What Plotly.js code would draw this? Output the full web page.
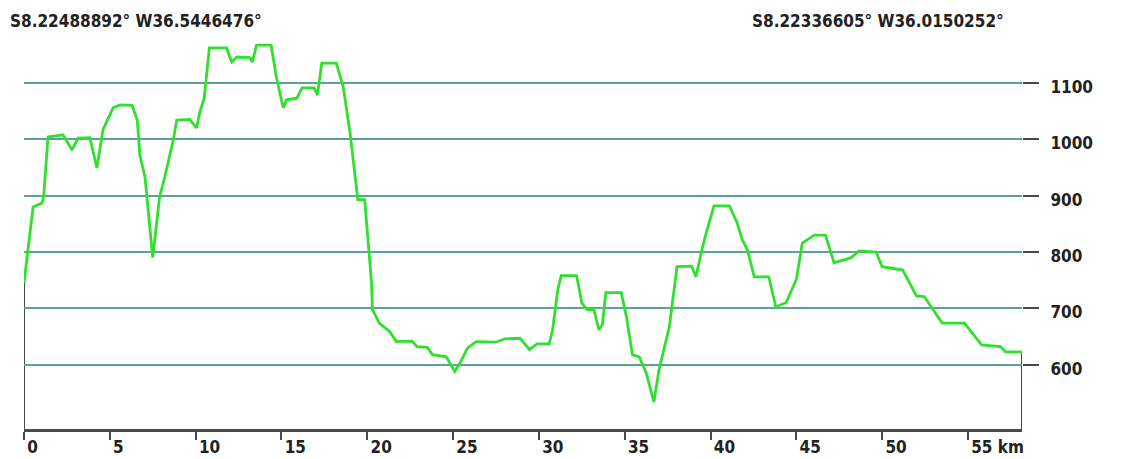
<!DOCTYPE html>
<html>
<head>
<meta charset="utf-8">
<script src="https://cdn.plot.ly/plotly-3.0.1.min.js"></script>
<style>
  html, body { margin: 0; padding: 0; background: #ffffff; }
  #chart { width: 1148px; height: 459px; }
</style>
</head>
<body>
<div id="chart"></div>
<script>
// Elevation profile along the route: distance (km) and elevation (m)
const distanceKm = [
  0, 0.53, 1.05, 1.15, 1.4, 2.27, 2.8, 3.15, 3.84, 4.25,
  4.6, 5.2, 5.6, 6.3, 6.6, 6.75, 7.05, 7.5, 7.9, 8.2,
  8.7, 8.9, 9.66, 10.05, 10.25, 10.5, 10.8, 11.8, 12.1, 12.4,
  13.15, 13.3, 13.55, 14.4, 14.7, 15.1, 15.3, 15.9, 16.2, 16.9,
  17.1, 17.35, 18.2, 18.6, 19.0, 19.45, 19.85, 20.0, 20.1, 20.25,
  20.3, 20.7, 21.3, 21.7, 22.6, 22.9, 23.5, 23.8, 24.6, 25.1,
  25.4, 25.85, 26.35, 27.5, 28.0, 28.9, 29.45, 29.9, 30.6, 30.8,
  31.1, 31.3, 32.2, 32.5, 32.8, 33.2, 33.5, 33.7, 33.9, 34.8,
  35.1, 35.45, 35.85, 36.25, 36.7, 37.0, 37.6, 38.05, 38.9, 39.15,
  39.5, 39.75, 40.2, 41.1, 41.55, 41.85, 42.15, 42.55, 43.4, 43.8,
  44.4, 45.0, 45.35, 46.05, 46.7, 47.2, 48.2, 48.65, 49.65, 50.0,
  51.2, 52.0, 52.45, 53.5, 54.8, 55.8, 56.9, 57.2, 58.15
];
const elevationM = [
  745, 880, 887, 900, 1004, 1008, 981, 1002, 1003, 949,
  1017, 1056, 1061, 1060, 1034, 972, 933, 790, 898, 933,
  999, 1034, 1035, 1020, 1049, 1073, 1162, 1162, 1137, 1146,
  1145, 1137, 1167, 1167, 1111, 1056, 1070, 1073, 1091, 1091,
  1079, 1135, 1135, 1093, 1011, 893, 893, 839, 800, 745,
  698, 674, 659, 641, 642, 632, 631, 618, 614, 588,
  603, 630, 641, 640, 646, 647, 627, 637, 637, 662,
  733, 758, 758, 710, 698, 698, 662, 671, 728, 728,
  685, 618, 614, 586, 534, 591, 667, 774, 775, 756,
  804, 834, 882, 882, 852, 822, 804, 756, 756, 703,
  710, 751, 816, 830, 830, 781, 790, 802, 800, 774,
  768, 722, 721, 674, 674, 635, 632, 623, 623
];

// Axis ticks
const xTickVals = [0, 5, 10, 15, 20, 25, 30, 35, 40, 45, 50, 55];
const xTickText = ["0", "5", "10", "15", "20", "25", "30", "35", "40", "45", "50", "55 km"];
const yTickVals = [600, 700, 800, 900, 1000, 1100];
const yTickText = ["600", "700", "800", "900", "1000", "1100"];

// Route end-point coordinates
const startCoord = "S8.22488892° W36.5446476°";
const endCoord = "S8.22336605° W36.0150252°";

const yMin = 486;
const yMax = 1185;
const xMax = distanceKm[distanceKm.length - 1];

const labelFont = { family: "DejaVu Sans Condensed, DejaVu Sans, sans-serif", size: 17, color: "#222222", weight: "bold" };
const frameColor = "#4a4a4a";

const trace = {
  x: distanceKm,
  y: elevationM,
  type: "scatter",
  mode: "lines",
  line: { color: "#2fe02f", width: 2.8, shape: "linear" },
  hoverinfo: "x+y",
  showlegend: false
};

const layout = {
  width: 1148,
  height: 459,
  margin: { l: 24, r: 126, t: 35, b: 30, pad: 0 },
  paper_bgcolor: "#ffffff",
  plot_bgcolor: "#ffffff",
  showlegend: false,
  xaxis: {
    range: [0, xMax],
    tickmode: "array",
    tickvals: xTickVals,
    ticktext: xTickText,
    ticks: "outside",
    ticklen: 8,
    tickwidth: 2,
    tickcolor: frameColor,
    ticklabelposition: "outside right",
    ticklabelshift: 1,
    ticklabelstandoff: 1,
    showgrid: false,
    zeroline: false,
    showline: true,
    linecolor: frameColor,
    linewidth: 2.5,
    tickfont: labelFont,
    fixedrange: true
  },
  yaxis: {
    range: [yMin, yMax],
    side: "right",
    tickmode: "array",
    tickvals: yTickVals,
    ticktext: yTickText,
    ticks: "outside",
    ticklen: 16,
    tickwidth: 2,
    tickcolor: frameColor,
    ticklabelstandoff: 8,
    ticklabelshift: 4,
    showgrid: true,
    gridcolor: "#5e9f9f",
    gridwidth: 2,
    zeroline: false,
    showline: false,
    tickfont: labelFont,
    fixedrange: true
  },
  shapes: [
    {
      type: "line", xref: "x", yref: "y", layer: "below",
      x0: distanceKm[0], x1: distanceKm[0],
      y0: yMin, y1: elevationM[0],
      line: { color: frameColor, width: 2 }
    },
    {
      type: "line", xref: "x", yref: "y", layer: "below",
      x0: xMax, x1: xMax,
      y0: yMin, y1: elevationM[elevationM.length - 1],
      line: { color: frameColor, width: 2 }
    }
  ],
  annotations: [
    {
      text: startCoord, xref: "paper", yref: "paper",
      x: -0.016, y: 1.036, xanchor: "left", yanchor: "middle",
      showarrow: false, font: labelFont
    },
    {
      text: endCoord, xref: "paper", yref: "paper",
      x: 0.7275, y: 1.036, xanchor: "left", yanchor: "middle",
      showarrow: false, font: labelFont
    }
  ]
};

Plotly.newPlot("chart", [trace], layout, { displayModeBar: false, staticPlot: true });
</script>
</body>
</html>
